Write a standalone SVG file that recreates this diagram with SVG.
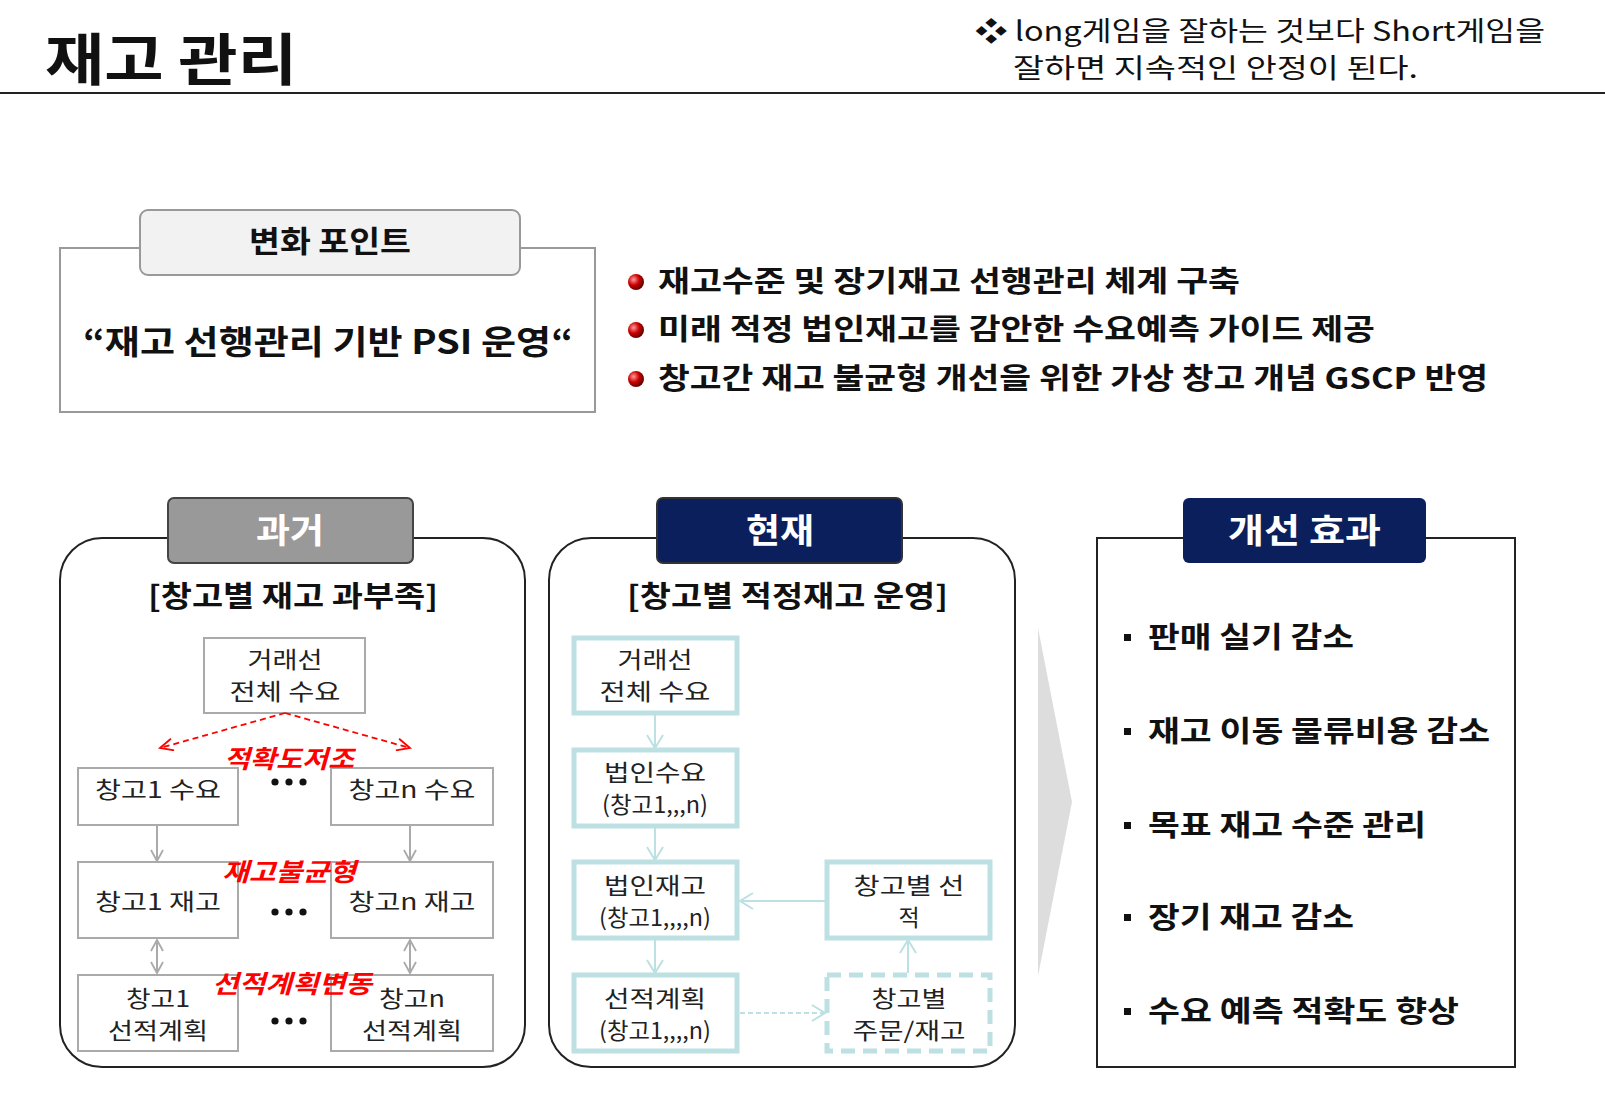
<svg xmlns="http://www.w3.org/2000/svg" width="1605" height="1099" viewBox="0 0 1605 1099">
<defs>
<style>
text{font-family:"Noto Sans CJK KR","Noto Sans",sans-serif;fill:#111}
.b{font-weight:bold}
.bx{font-size:23px;text-anchor:middle;fill:#222}
.g{fill:#fff;stroke:#aaa;stroke-width:2}
.t{fill:#fff;stroke:#bde0e3;stroke-width:5}
.red{font-size:25px;font-weight:bold;font-style:italic;fill:#f00}
.it{font-size:29px;font-weight:bold}
</style>
<radialGradient id="rb" cx="0.35" cy="0.35" r="0.7"><stop offset="0" stop-color="#ff9a9a"/><stop offset="0.5" stop-color="#c00"/><stop offset="1" stop-color="#500"/></radialGradient>
<marker id="ag" markerWidth="14" markerHeight="14" refX="12" refY="7" orient="auto-start-reverse" markerUnits="userSpaceOnUse"><path d="M1,1 L12,7 L1,13" fill="none" stroke="#aaa" stroke-width="1.8"/></marker>
<marker id="ar" markerWidth="16" markerHeight="14" refX="14" refY="7" orient="auto" markerUnits="userSpaceOnUse"><path d="M1,1 L14,7 L1,13" fill="none" stroke="#f00" stroke-width="1.8"/></marker>
<marker id="at" markerWidth="16" markerHeight="18" refX="14" refY="9" orient="auto" markerUnits="userSpaceOnUse"><path d="M1,1 L14,9 L1,17" fill="none" stroke="#bde0e3" stroke-width="2"/></marker>
</defs>
<rect width="1605" height="1099" fill="#fff"/>
<text x="45" y="80" font-size="56" class="b" textLength="252" lengthAdjust="spacingAndGlyphs">재고 관리</text>
<line x1="0" y1="93" x2="1605" y2="93" stroke="#222" stroke-width="2"/>
<text x="975" y="41" font-size="27" textLength="570" lengthAdjust="spacingAndGlyphs">❖ long게임을 잘하는 것보다 Short게임을</text>
<text x="1013" y="78" font-size="27" textLength="405" lengthAdjust="spacingAndGlyphs">잘하면 지속적인 안정이 된다.</text>

<g id="change-point">
<rect x="60" y="248" width="535" height="164" fill="#fff" stroke="#999" stroke-width="2"/>
<rect x="140" y="210" width="380" height="65" rx="8" fill="#f2f2f2" stroke="#999" stroke-width="2"/>
<text x="249" y="252" font-size="30" class="b" textLength="162" lengthAdjust="spacingAndGlyphs">변화 포인트</text>
<text x="83" y="354" font-size="33" class="b" textLength="490" lengthAdjust="spacingAndGlyphs">“재고 선행관리 기반 PSI 운영“</text>
</g>
<g id="bullets">
<circle cx="636" cy="282" r="8" fill="url(#rb)"/>
<circle cx="636" cy="330" r="8" fill="url(#rb)"/>
<circle cx="636" cy="379" r="8" fill="url(#rb)"/>
<text x="658" y="292" class="it" textLength="582" lengthAdjust="spacingAndGlyphs">재고수준 및 장기재고 선행관리 체계 구축</text>
<text x="658" y="340" class="it" textLength="717" lengthAdjust="spacingAndGlyphs">미래 적정 법인재고를 감안한 수요예측 가이드 제공</text>
<text x="658" y="389" class="it" textLength="830" lengthAdjust="spacingAndGlyphs">창고간 재고 불균형 개선을 위한 가상 창고 개념 GSCP 반영</text>
</g>

<g id="past">
<rect x="60" y="538" width="465" height="529" rx="42" fill="#fff" stroke="#222" stroke-width="2"/>
<rect x="168" y="498" width="245" height="65" rx="6" fill="#999" stroke="#444" stroke-width="2"/>
<text x="256" y="543" font-size="34" class="b" textLength="68" lengthAdjust="spacingAndGlyphs" style="fill:#fff">과거</text>
<text x="148" y="607" font-size="29" class="b" textLength="290" lengthAdjust="spacingAndGlyphs">[창고별 재고 과부족]</text>
</g>
<g id="p-demand"><rect class="g" x="204" y="638" width="161" height="75"/><text class="bx" x="285" y="668" textLength="75" lengthAdjust="spacingAndGlyphs">거래선</text><text class="bx" x="285" y="700" textLength="111" lengthAdjust="spacingAndGlyphs">전체 수요</text></g>
<g id="p-d1"><rect class="g" x="78" y="768" width="160" height="57"/><text class="bx" x="158" y="798" textLength="126" lengthAdjust="spacingAndGlyphs">창고1 수요</text></g>
<g id="p-dn"><rect class="g" x="331" y="768" width="162" height="57"/><text class="bx" x="412" y="798" textLength="127" lengthAdjust="spacingAndGlyphs">창고n 수요</text></g>
<g id="p-s1"><rect class="g" x="78" y="862" width="160" height="76"/><text class="bx" x="158" y="910" textLength="126" lengthAdjust="spacingAndGlyphs">창고1 재고</text></g>
<g id="p-sn"><rect class="g" x="331" y="862" width="162" height="76"/><text class="bx" x="412" y="910" textLength="127" lengthAdjust="spacingAndGlyphs">창고n 재고</text></g>
<g id="p-p1"><rect class="g" x="78" y="975" width="160" height="76"/><text class="bx" x="158" y="1007" textLength="64" lengthAdjust="spacingAndGlyphs">창고1</text><text class="bx" x="158" y="1039" textLength="100" lengthAdjust="spacingAndGlyphs">선적계획</text></g>
<g id="p-pn"><rect class="g" x="331" y="975" width="162" height="76"/><text class="bx" x="412" y="1007" textLength="66" lengthAdjust="spacingAndGlyphs">창고n</text><text class="bx" x="412" y="1039" textLength="100" lengthAdjust="spacingAndGlyphs">선적계획</text></g>
<g id="p-dots" fill="#111">
<circle cx="275" cy="782" r="3.6"/><circle cx="289" cy="782" r="3.6"/><circle cx="303" cy="782" r="3.6"/>
<circle cx="275" cy="912" r="3.6"/><circle cx="289" cy="912" r="3.6"/><circle cx="303" cy="912" r="3.6"/>
<circle cx="275" cy="1021" r="3.6"/><circle cx="289" cy="1021" r="3.6"/><circle cx="303" cy="1021" r="3.6"/>
</g>

<g id="present">
<rect x="549" y="538" width="466" height="529" rx="42" fill="#fff" stroke="#222" stroke-width="2"/>
<rect x="657" y="498" width="245" height="65" rx="6" fill="#0b1f5c" stroke="#333" stroke-width="2"/>
<text x="746" y="543" font-size="34" class="b" textLength="68" lengthAdjust="spacingAndGlyphs" style="fill:#fff">현재</text>
<text x="627" y="607" font-size="29" class="b" textLength="321" lengthAdjust="spacingAndGlyphs">[창고별 적정재고 운영]</text>
</g>
<g id="c-demand"><rect class="t" x="574" y="638" width="163" height="75"/><text class="bx" x="655" y="668" textLength="75" lengthAdjust="spacingAndGlyphs">거래선</text><text class="bx" x="655" y="700" textLength="111" lengthAdjust="spacingAndGlyphs">전체 수요</text></g>
<g id="c-corp-d"><rect class="t" x="574" y="750" width="163" height="76"/><text class="bx" x="655" y="781" textLength="102" lengthAdjust="spacingAndGlyphs">법인수요</text><text class="bx" x="655" y="813" font-size="21" textLength="106" lengthAdjust="spacingAndGlyphs">(창고1,,,n)</text></g>
<g id="c-corp-s"><rect class="t" x="574" y="862" width="163" height="76"/><text class="bx" x="655" y="894" textLength="102" lengthAdjust="spacingAndGlyphs">법인재고</text><text class="bx" x="655" y="926" font-size="21" textLength="112" lengthAdjust="spacingAndGlyphs">(창고1,,,,n)</text></g>
<g id="c-plan"><rect class="t" x="574" y="975" width="163" height="76"/><text class="bx" x="655" y="1007" textLength="102" lengthAdjust="spacingAndGlyphs">선적계획</text><text class="bx" x="655" y="1039" font-size="21" textLength="112" lengthAdjust="spacingAndGlyphs">(창고1,,,,n)</text></g>
<g id="c-ship"><rect class="t" x="827" y="862" width="163" height="76"/><text class="bx" x="909" y="894" textLength="111" lengthAdjust="spacingAndGlyphs">창고별 선</text><text class="bx" x="909" y="926">적</text></g>
<g id="c-order"><rect class="t" x="827" y="975" width="163" height="76" stroke-dasharray="14,8"/><text class="bx" x="909" y="1007" textLength="75" lengthAdjust="spacingAndGlyphs">창고별</text><text class="bx" x="909" y="1039" textLength="113" lengthAdjust="spacingAndGlyphs">주문/재고</text></g>

<g id="connectors" fill="none">
<path d="M285,713 L160,748" stroke="#f00" stroke-width="1.8" stroke-dasharray="6,4" marker-end="url(#ar)"/>
<path d="M285,713 L410,748" stroke="#f00" stroke-width="1.8" stroke-dasharray="6,4" marker-end="url(#ar)"/>
<path d="M157,826 V861" stroke="#aaa" stroke-width="2" marker-end="url(#ag)"/>
<path d="M410,826 V861" stroke="#aaa" stroke-width="2" marker-end="url(#ag)"/>
<path d="M157,940 V973" stroke="#aaa" stroke-width="2" marker-start="url(#ag)" marker-end="url(#ag)"/>
<path d="M410,940 V973" stroke="#aaa" stroke-width="2" marker-start="url(#ag)" marker-end="url(#ag)"/>
<path d="M655,715 V748" stroke="#bde0e3" stroke-width="2" marker-end="url(#at)"/>
<path d="M655,828 V860" stroke="#bde0e3" stroke-width="2" marker-end="url(#at)"/>
<path d="M655,940 V973" stroke="#bde0e3" stroke-width="2" marker-end="url(#at)"/>
<path d="M825,901 H740" stroke="#bde0e3" stroke-width="2" marker-end="url(#at)"/>
<path d="M908,973 V940" stroke="#bde0e3" stroke-width="2" marker-end="url(#at)"/>
<path d="M740,1013 H825" stroke="#bde0e3" stroke-width="2" stroke-dasharray="5,3" marker-end="url(#at)"/>
</g>
<g id="red-labels">
<text class="red" x="224" y="768" textLength="130" lengthAdjust="spacingAndGlyphs">적확도저조</text>
<text class="red" x="222" y="881" textLength="134" lengthAdjust="spacingAndGlyphs">재고불균형</text>
<text class="red" x="212" y="993" textLength="160" lengthAdjust="spacingAndGlyphs">선적계획변동</text>
</g>

<polygon points="1038,628 1072,802 1038,976" fill="#ddd"/>

<g id="effects">
<rect x="1097" y="538" width="418" height="529" fill="#fff" stroke="#222" stroke-width="2"/>
<rect x="1183" y="498" width="243" height="65" rx="6" fill="#0b1f5c"/>
<text x="1228" y="543" font-size="34" class="b" textLength="153" lengthAdjust="spacingAndGlyphs" style="fill:#fff">개선 효과</text>
<g fill="#111"><rect x="1124" y="634" width="7" height="7"/><rect x="1124" y="728" width="7" height="7"/><rect x="1124" y="822" width="7" height="7"/><rect x="1124" y="914" width="7" height="7"/><rect x="1124" y="1008" width="7" height="7"/></g>
<text x="1148" y="648" class="it" textLength="206" lengthAdjust="spacingAndGlyphs">판매 실기 감소</text>
<text x="1148" y="742" class="it" textLength="342" lengthAdjust="spacingAndGlyphs">재고 이동 물류비용 감소</text>
<text x="1148" y="836" class="it" textLength="278" lengthAdjust="spacingAndGlyphs">목표 재고 수준 관리</text>
<text x="1148" y="928" class="it" textLength="206" lengthAdjust="spacingAndGlyphs">장기 재고 감소</text>
<text x="1148" y="1022" class="it" textLength="311" lengthAdjust="spacingAndGlyphs">수요 예측 적확도 향상</text>
</g>
</svg>
